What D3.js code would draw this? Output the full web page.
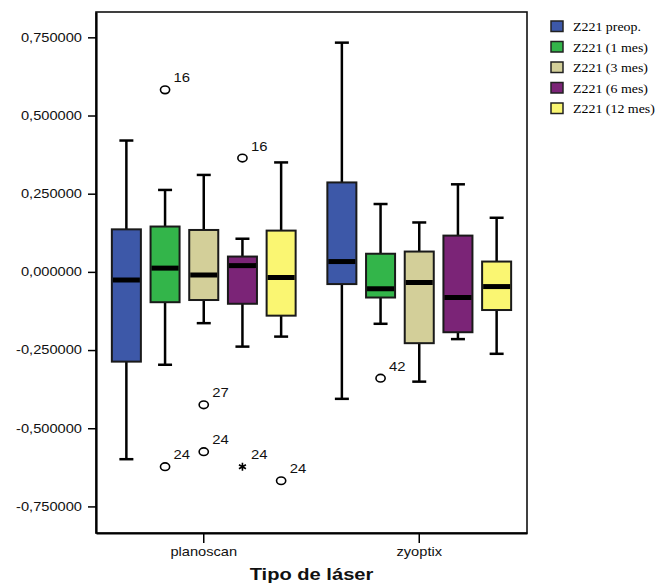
<!DOCTYPE html>
<html><head><meta charset="utf-8">
<script src="https://cdn.jsdelivr.net/npm/d3@7"></script>
<style>body{margin:0;background:#fff}svg{display:block}</style>
</head><body><div id="chart"></div>
<script>
const groups = ["planoscan", "zyoptix"];
const series = ["Z221 preop.", "Z221 (1 mes)", "Z221 (3 mes)", "Z221 (6 mes)", "Z221 (12 mes)"];
const colors = ["#3D58A8", "#33B54A", "#D3CF99", "#7B2477", "#FAF672"];
// per group, per series
const whiskerLow  = [[-0.599, -0.297, -0.164, -0.239, -0.207], [-0.406, -0.166, -0.351, -0.215, -0.262]];
const q1          = [[-0.287, -0.097, -0.090, -0.102, -0.140], [-0.039, -0.082, -0.228, -0.193, -0.122]];
const medians     = [[-0.026,  0.012, -0.010,  0.020, -0.018], [ 0.033, -0.054, -0.034, -0.082, -0.047]];
const q3          = [[ 0.136,  0.145,  0.134,  0.049,  0.132], [ 0.286,  0.058,  0.065,  0.116,  0.033]];
const whiskerHigh = [[ 0.420,  0.262,  0.310,  0.106,  0.350], [ 0.733,  0.217,  0.158,  0.280,  0.173]];
const outlierGroup  = [0, 0, 0, 0, 0, 0, 0, 1];
const outlierSeries = [1, 1, 2, 2, 3, 3, 4, 1];
const outlierValue  = [0.582, -0.623, -0.425, -0.575, 0.364, -0.623, -0.668, -0.340];
const outlierLabel  = ["16", "24", "27", "24", "16", "24", "24", "42"];
const outlierExtreme= [false, false, false, false, false, true, false, false];
const yTicks = [-0.75, -0.5, -0.25, 0, 0.25, 0.5, 0.75];
const xTitle = "Tipo de láser";

const W = 658, H = 585;
const SX = 1.22; // horizontal stretch of text as in reference
const m = {left: 96, right: 527, top: 12, bottom: 533};
const sans = "Liberation Sans, Arial, sans-serif";
const svg = d3.select("#chart").append("svg").attr("width", W).attr("height", H);

const x0 = d3.scaleBand().domain(groups).range([m.left, m.right]);
const x1 = d3.scaleBand().domain(series).range([0, x0.bandwidth()]).paddingInner(0.25).paddingOuter(0.41);
const y = d3.scaleLinear().domain([-0.835, 0.831]).range([m.bottom, m.top]);

// frame
svg.append("rect").attr("x", m.left).attr("y", m.top).attr("width", m.right - m.left).attr("height", m.bottom - m.top)
  .attr("fill", "none").attr("stroke", "#111").attr("stroke-width", 1.6);

// y axis
const fmt = v => d3.format(".6f")(v).replace(".", ",").replace("−", "-");
const yAxis = svg.append("g").attr("transform", `translate(${m.left},0)`)
  .call(d3.axisLeft(y).tickValues(yTicks).tickSize(8).tickSizeOuter(0).tickFormat(fmt));
yAxis.select(".domain").attr("stroke", "#000").attr("stroke-width", 2.2);
yAxis.selectAll(".tick line").attr("stroke", "#000").attr("stroke-width", 1.5);
yAxis.selectAll("text").attr("font-family", sans).attr("font-size", 12).attr("fill", "#111")
  .attr("x", -14 / SX).attr("transform", `scale(${SX},1)`);

// x axis
const xAxis = svg.append("g").attr("transform", `translate(0,${m.bottom})`)
  .call(d3.axisBottom(x0).tickSize(10).tickSizeOuter(0));
xAxis.select(".domain").attr("stroke", "#000").attr("stroke-width", 2.2);
xAxis.selectAll(".tick line").attr("stroke", "#000").attr("stroke-width", 1.5);
xAxis.selectAll("text").attr("font-family", sans).attr("font-size", 12).attr("fill", "#111")
  .attr("y", 14).attr("dy", "0.71em").attr("transform", `scale(${SX},1)`);

svg.append("text").attr("transform", `translate(${(m.left + m.right) / 2},580) scale(${SX},1)`).attr("text-anchor", "middle")
  .attr("font-family", sans).attr("font-weight", "bold").attr("font-size", 16.5).attr("fill", "#111").text(xTitle);

// boxes
groups.forEach((g, gi) => {
  series.forEach((s, si) => {
    const bx = x0(g) + x1(s), bw = x1.bandwidth(), cx = bx + bw / 2;
    const gEl = svg.append("g");
    const cap = 7;
    gEl.append("line").attr("x1", cx).attr("x2", cx).attr("y1", y(whiskerHigh[gi][si])).attr("y2", y(q3[gi][si])).attr("stroke", "#000").attr("stroke-width", 2.5);
    gEl.append("line").attr("x1", cx).attr("x2", cx).attr("y1", y(whiskerLow[gi][si])).attr("y2", y(q1[gi][si])).attr("stroke", "#000").attr("stroke-width", 2.5);
    gEl.append("line").attr("x1", cx - cap).attr("x2", cx + cap).attr("y1", y(whiskerHigh[gi][si])).attr("y2", y(whiskerHigh[gi][si])).attr("stroke", "#000").attr("stroke-width", 2.5);
    gEl.append("line").attr("x1", cx - cap).attr("x2", cx + cap).attr("y1", y(whiskerLow[gi][si])).attr("y2", y(whiskerLow[gi][si])).attr("stroke", "#000").attr("stroke-width", 2.5);
    gEl.append("rect").attr("x", bx).attr("y", y(q3[gi][si])).attr("width", bw).attr("height", y(q1[gi][si]) - y(q3[gi][si]))
      .attr("fill", colors[si]).attr("stroke", "#1a1a1a").attr("stroke-width", 2);
    gEl.append("line").attr("x1", bx + 1).attr("x2", bx + bw - 1).attr("y1", y(medians[gi][si])).attr("y2", y(medians[gi][si])).attr("stroke", "#000").attr("stroke-width", 5);
  });
});

// outliers
outlierValue.forEach((v, i) => {
  const g = groups[outlierGroup[i]], s = series[outlierSeries[i]];
  const cx = x0(g) + x1(s) + x1.bandwidth() / 2, cy = y(v);
  if (outlierExtreme[i]) {
    svg.append("path").attr("d", d3.symbol(d3.symbolAsterisk, 45)()).attr("transform", `translate(${cx},${cy})`)
      .attr("stroke", "#000").attr("stroke-width", 1.6).attr("fill", "none");
  } else {
    svg.append("ellipse").attr("cx", cx).attr("cy", cy).attr("rx", 4.6).attr("ry", 3.8).attr("fill", "#fff").attr("stroke", "#000").attr("stroke-width", 1.6);
  }
  svg.append("text").attr("transform", `translate(${cx + 8.5},${cy - 7.5}) scale(1.1,1)`).attr("font-family", sans)
    .attr("font-size", 13.5).attr("fill", "#111").text(outlierLabel[i]);
});

// legend
const leg = svg.append("g");
series.forEach((s, i) => {
  const ly = 21 + i * 20.5;
  leg.append("rect").attr("x", 551).attr("y", ly).attr("width", 12).attr("height", 10.5).attr("fill", colors[i]).attr("stroke", "#222").attr("stroke-width", 1.5);
  leg.append("text").attr("transform", `translate(573,${ly + 10}) scale(1.16,1)`).attr("font-family", "Liberation Serif, Times New Roman, serif")
    .attr("font-size", 12).attr("fill", "#000").text(s);
});
</script></body></html>
